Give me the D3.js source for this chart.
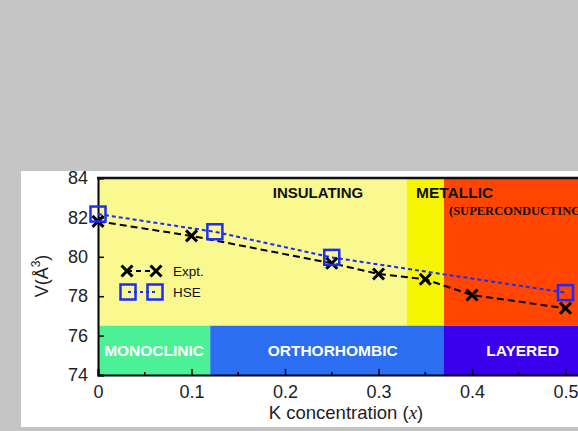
<!DOCTYPE html>
<html>
<head>
<meta charset="utf-8">
<script src="https://cdn.jsdelivr.net/npm/d3@7"></script>
<style>
  body { margin:0; background:#c4c5c4; }
  svg { display:block; }
</style>
</head>
<body>
<svg id="chart" width="578" height="431"></svg>
<script>
// data
let exptX = [0, 0.1, 0.25, 0.3, 0.35, 0.4, 0.5]
let exptV = [81.8, 81.06, 79.67, 79.13, 78.86, 78.06, 77.39]
let hseX = [0, 0.125, 0.25, 0.5]
let hseV = [82.17, 81.27, 79.97, 78.18]

let xTicks = [0, 0.1, 0.2, 0.3, 0.4, 0.5]
let xMinor = [0.05, 0.15, 0.25, 0.35, 0.45]
let yTicks = [74, 76, 78, 80, 82, 84]

// phase regions: [x0, x1, colour]
let electronic = [[0, 0.33, '#f9f98f'], [0.33, 0.37, '#f6f600'], [0.37, 0.6, '#ff4500']]
let structural = [[0, 0.12, '#4cf096'], [0.12, 0.37, '#2b6ef2'], [0.37, 0.6, '#3a00ee']]
let bandSplit = 76.5
let structLabels = [['MONOCLINIC', 0.06], ['ORTHORHOMBIC', 0.251], ['LAYERED', 0.454]]

let svg = d3.select('#chart')

svg.append('rect')
  .attr('x', 21).attr('y', 171).attr('width', 557).attr('height', 256)
  .attr('fill', '#fff')

let x = d3.scaleLinear().domain([0, 0.55]).range([98, 612.3])
let y = d3.scaleLinear().domain([74, 84]).range([375, 178])

let g = svg.append('g')

electronic.forEach(r=>{
  g.append('rect')
    .attr('x', x(r[0])).attr('y', y(84))
    .attr('width', x(r[1]) - x(r[0])).attr('height', y(bandSplit) - y(84))
    .attr('fill', r[2])
})
structural.forEach(r=>{
  g.append('rect')
    .attr('x', x(r[0])).attr('y', y(bandSplit))
    .attr('width', x(r[1]) - x(r[0])).attr('height', y(74) - y(bandSplit))
    .attr('fill', r[2])
})

// region labels
g.append('text').attr('x', 318).attr('y', 198)
  .attr('text-anchor', 'middle')
  .style('font', 'bold 15px "Liberation Sans", Arial, sans-serif').attr('fill', '#111')
  .text('INSULATING')
g.append('text').attr('x', 416).attr('y', 198)
  .style('font', 'bold 15.5px "Liberation Sans", Arial, sans-serif').attr('fill', '#111')
  .text('METALLIC')
g.append('text').attr('x', 449).attr('y', 215)
  .style('font', 'bold 12.5px "Liberation Serif", "Times New Roman", serif').attr('fill', '#111')
  .text('(SUPERCONDUCTING)')
structLabels.forEach(d=>{
  g.append('text').attr('x', x(d[1])).attr('y', 356)
    .attr('text-anchor', 'middle')
    .style('font', 'bold 15.5px "Liberation Sans", Arial, sans-serif').attr('fill', '#fff')
    .text(d[0])
})

// axes
let xAxis = d3.axisBottom(x).tickValues(xTicks).tickSize(-6).tickPadding(9)
  .tickFormat(d=> d == 0 ? '0' : d3.format('.1f')(d))
let xg = svg.append('g').attr('transform', 'translate(0,375)').call(xAxis)
xg.selectAll('line.minor').data(xMinor).enter().append('line')
  .attr('x1', d=>x(d)).attr('x2', d=>x(d)).attr('y1', 0).attr('y2', -3)
  .attr('stroke', '#000').attr('stroke-width', 1.5)

let yAxis = d3.axisLeft(y).tickValues(yTicks).tickSize(-6).tickPadding(10)
let yg = svg.append('g').attr('transform', 'translate(98,0)').call(yAxis)

;[xg, yg].forEach(a=>{
  a.select('.domain').attr('stroke', '#000').attr('stroke-width', 2)
  a.selectAll('.tick line').attr('stroke', '#000').attr('stroke-width', 1.5)
  a.selectAll('.tick text')
    .style('font', '18px "Liberation Sans", Arial, sans-serif').attr('fill', '#222')
})
xg.selectAll('.tick text').attr('dy', '0.8em')
svg.append('line').attr('x1', 97).attr('x2', 578).attr('y1', 178).attr('y2', 178)
  .attr('stroke', '#111').attr('stroke-width', 2.5)

// axis titles
let xt = svg.append('text').attr('x', 346).attr('y', 419).attr('text-anchor', 'middle')
  .style('font', '18.5px "Liberation Sans", Arial, sans-serif').attr('fill', '#222')
xt.append('tspan').text('K concentration (')
xt.append('tspan').style('font', 'italic 19px "Liberation Serif", serif').text('x')
xt.append('tspan').text(')')

let yt = svg.append('text').attr('transform', 'translate(48,276) rotate(-90)')
  .attr('text-anchor', 'middle')
  .style('font', '18px "Liberation Sans", Arial, sans-serif').attr('fill', '#222')
yt.append('tspan').text('V(Å')
yt.append('tspan').attr('dy', -8).style('font-size', '12px').text('3')
yt.append('tspan').attr('dy', 8).text(')')

// series
let line = d3.line().x(d=>x(d[0])).y(d=>y(d[1]))
let expt = exptX.map((d,i)=>[d, exptV[i]])
let hse = hseX.map((d,i)=>[d, hseV[i]])

let plot = svg.append('g')
plot.append('path').attr('d', line(hse))
  .attr('fill', 'none').attr('stroke', '#1a2cff').attr('stroke-width', 2)
  .attr('stroke-dasharray', '4,3')
plot.append('path').attr('d', line(expt))
  .attr('fill', 'none').attr('stroke', '#000').attr('stroke-width', 2)
  .attr('stroke-dasharray', '7,4')

function cross(sel, cx, cy){
  let s = 5.5
  sel.append('path')
    .attr('d', `M${cx-s},${cy-s}L${cx+s},${cy+s}M${cx-s},${cy+s}L${cx+s},${cy-s}`)
    .attr('stroke', '#000').attr('stroke-width', 3)
}
function square(sel, cx, cy){
  let s = 7.5
  sel.append('rect').attr('x', cx-s).attr('y', cy-s).attr('width', 2*s).attr('height', 2*s)
    .attr('fill', 'none').attr('stroke', '#1a2cff').attr('stroke-width', 2.5)
}
expt.forEach(d=> cross(plot, x(d[0]), y(d[1])))
hse.forEach(d=> square(plot, x(d[0]), y(d[1])))

// legend
let lg = svg.append('g')
lg.append('line').attr('x1', 127).attr('x2', 156).attr('y1', 271).attr('y2', 271)
  .attr('stroke', '#000').attr('stroke-width', 2).attr('stroke-dasharray', '5,4')
cross(lg, 127, 271); cross(lg, 156, 271)
lg.append('line').attr('x1', 128).attr('x2', 155).attr('y1', 292).attr('y2', 292)
  .attr('stroke', '#1a2cff').attr('stroke-width', 2).attr('stroke-dasharray', '3,3')
square(lg, 128, 292); square(lg, 155, 292)
lg.append('text').attr('x', 173).attr('y', 276)
  .style('font', '13.5px "Liberation Sans", Arial, sans-serif').attr('fill', '#111').text('Expt.')
lg.append('text').attr('x', 173).attr('y', 297)
  .style('font', '13.5px "Liberation Sans", Arial, sans-serif').attr('fill', '#111').text('HSE')

// gray strip at bottom
svg.append('rect').attr('x', 21).attr('y', 427).attr('width', 557).attr('height', 4).attr('fill', '#c4c5c4')
</script>
</body>
</html>
